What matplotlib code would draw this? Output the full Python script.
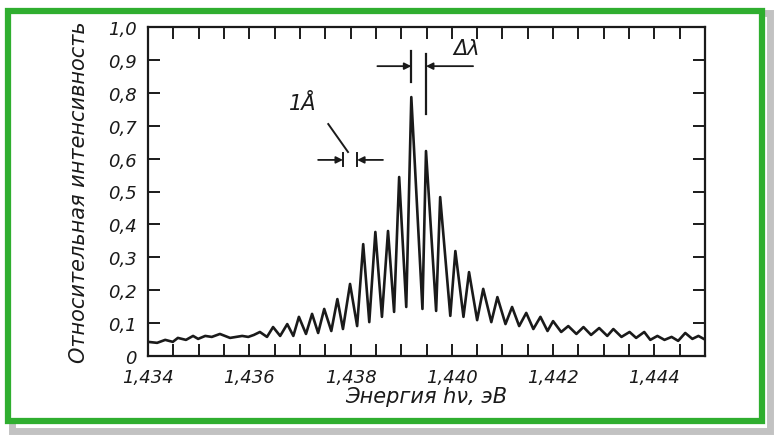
import numpy as np
import matplotlib
matplotlib.use('Agg')
from matplotlib import pyplot as plt
from matplotlib.patches import Rectangle
from matplotlib.ticker import FixedLocator, MultipleLocator

# trace: energy (eV) and relative intensity
energy = [1.43400, 1.43418, 1.43434, 1.43449, 1.43459, 1.43475, 1.43489,
          1.43499, 1.43513, 1.43526, 1.43542, 1.43562, 1.43586, 1.43598,
          1.43609, 1.43621, 1.43635, 1.43647, 1.43661, 1.43675, 1.43687,
          1.43698, 1.43712, 1.43724, 1.43736, 1.43748, 1.43762, 1.43774,
          1.43785, 1.43799, 1.43813, 1.43825, 1.43837, 1.43849, 1.43862,
          1.43874, 1.43886, 1.43896, 1.43910, 1.43920, 1.43942, 1.43949,
          1.43969, 1.43977, 1.43997, 1.44007, 1.44023, 1.44034, 1.44050,
          1.44062, 1.44078, 1.44090, 1.44106, 1.44119, 1.44133, 1.44147,
          1.44161, 1.44175, 1.44189, 1.44200, 1.44216, 1.44230, 1.44246,
          1.44260, 1.44275, 1.44291, 1.44307, 1.44319, 1.44335, 1.44351,
          1.44364, 1.44380, 1.44392, 1.44406, 1.44420, 1.44434, 1.44447,
          1.44461, 1.44475, 1.44487, 1.44501]
intensity = [0.043, 0.040, 0.049, 0.043, 0.055, 0.049, 0.061,
             0.052, 0.061, 0.058, 0.067, 0.055, 0.061, 0.058,
             0.064, 0.073, 0.058, 0.088, 0.061, 0.097, 0.061,
             0.119, 0.067, 0.128, 0.070, 0.143, 0.076, 0.173,
             0.082, 0.219, 0.091, 0.340, 0.103, 0.377, 0.119,
             0.380, 0.134, 0.544, 0.149, 0.787, 0.143, 0.623,
             0.137, 0.483, 0.122, 0.319, 0.119, 0.255, 0.109,
             0.204, 0.103, 0.179, 0.097, 0.149, 0.091, 0.131,
             0.082, 0.119, 0.076, 0.106, 0.073, 0.091, 0.067,
             0.088, 0.064, 0.085, 0.061, 0.082, 0.058, 0.073,
             0.055, 0.073, 0.049, 0.061, 0.049, 0.058, 0.046,
             0.070, 0.052, 0.061, 0.049]

x_ticks = [1.434, 1.436, 1.438, 1.440, 1.442, 1.444]
x_labels = ['1,434', '1,436', '1,438', '1,440', '1,442', '1,444']
y_ticks = [0, 0.1, 0.2, 0.3, 0.4, 0.5, 0.6, 0.7, 0.8, 0.9, 1.0]
y_labels = ['0', '0,1', '0,2', '0,3', '0,4', '0,5', '0,6', '0,7', '0,8',
            '0,9', '1,0']

ink = '#1a1a1a'
green = '#2fae2f'

fig = plt.figure(figsize=(7.74, 4.39), dpi=100)

# green frame with a grey shadow
W, H = 774.0, 439.0
fig.patches.append(Rectangle((12 / W, 1 - 432 / H), 758 / W, 418 / H,
                             transform=fig.transFigure, facecolor='none',
                             edgecolor='#9a9a9a', linewidth=5, alpha=0.6,
                             zorder=0))
fig.patches.append(Rectangle((8 / W, 1 - 422 / H), 754 / W, 410 / H,
                             transform=fig.transFigure, facecolor='white',
                             edgecolor=green, linewidth=4.5, zorder=1))

ax = fig.add_axes([148 / W, 1 - 357 / H, 557 / W, 329 / H])
ax.set_zorder(2)
ax.patch.set_alpha(0)

ax.plot(energy, intensity, '-', c=ink, linewidth=1.9, solid_joinstyle='round')

ax.set_xlim(1.434, 1.445)
ax.set_ylim(0, 1.0)

font = dict(family='DejaVu Sans', style='italic', color=ink)

ax.xaxis.set_major_locator(FixedLocator(x_ticks))
ax.xaxis.set_minor_locator(MultipleLocator(0.0005))
ax.set_xticklabels(x_labels, fontdict=dict(font, size=13))
ax.set_yticks(y_ticks)
ax.set_yticklabels(y_labels, fontdict=dict(font, size=13))
ax.tick_params(which='both', direction='in', top=True, right=True,
               length=8.5, width=1.4, color=ink)
ax.tick_params(axis='x', pad=9)
ax.tick_params(axis='y', pad=8)
for s in ax.spines.values():
    s.set_linewidth(1.6)
    s.set_color(ink)

ax.set_xlabel('Энергия hν, эВ', fontdict=dict(font, size=15), labelpad=0)
ax.set_ylabel('Относительная интенсивность', fontdict=dict(font, size=15),
              labelpad=14)

# mode spacing marker at the two strongest peaks
i_main = int(np.argmax(intensity))
e_main = energy[i_main]
e_next = energy[i_main + 2]
arrow = dict(arrowstyle='-|>', color=ink, lw=1.3, mutation_scale=10,
             shrinkA=0, shrinkB=0)
ax.plot([e_main, e_main], [0.833, 0.927], c=ink, lw=1.6)
ax.plot([e_next, e_next], [0.736, 0.918], c=ink, lw=1.6)
ax.annotate('', xy=(e_main, 0.881), xytext=(1.43853, 0.881), arrowprops=arrow)
ax.annotate('', xy=(e_next, 0.881), xytext=(1.44042, 0.881), arrowprops=arrow)
ax.text(1.44030, 0.935, 'Δλ', ha='center', va='center', fontdict=dict(font, size=15))

# 1 angstrom scale marker
a1, a2, ay = 1.43785, 1.43813, 0.596
ax.plot([a1, a1], [ay - 0.02, ay + 0.02], c=ink, lw=1.4)
ax.plot([a2, a2], [ay - 0.02, ay + 0.02], c=ink, lw=1.4)
ax.annotate('', xy=(a1, ay), xytext=(1.43736, ay), arrowprops=arrow)
ax.annotate('', xy=(a2, ay), xytext=(1.43864, ay), arrowprops=arrow)
ax.plot([1.43756, 1.43795], [0.705, 0.62], c=ink, lw=1.4)
ax.text(1.43706, 0.77, '1Å', ha='center', va='center', fontdict=dict(font, size=15))

fig.savefig('out.png', dpi=100)
